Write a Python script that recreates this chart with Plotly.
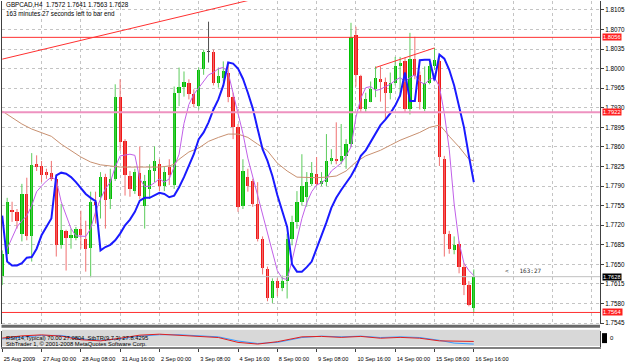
import plotly.graph_objects as go

# ---------------- data ----------------
bar_idx = list(range(97))
opens = [1.7629,1.7669,1.7747,1.7744,1.7705,1.7776,1.7701,1.7829,1.7826,1.7815,
         1.7813,1.7803,1.7684,1.7710,1.7698,1.7698,1.7714,1.7696,1.7680,1.7762,
         1.7771,1.7806,1.7767,1.7803,1.7949,1.7870,1.7808,1.7781,1.7813,1.7755,
         1.7785,1.7817,1.7829,1.7790,1.7824,1.7792,1.7957,1.7968,1.7975,1.7954,
         1.7934,1.8000,1.8030,1.8030,1.7975,1.7984,1.7993,1.7950,1.7895,1.7755,
         1.7806,1.7799,1.7758,1.7696,1.7641,1.7589,1.7620,1.7607,1.7620,1.7696,
         1.7726,1.7762,1.7771,1.7794,1.7812,1.7794,1.7797,1.7835,1.7838,1.7835,
         1.7844,1.7865,1.8061,1.7986,1.7927,1.7941,1.7963,1.7981,1.7977,1.7957,
         1.7975,1.8004,1.8013,1.7927,1.8018,1.7989,1.7927,1.7975,1.8004,1.8013,
         1.7838,1.7705,1.7675,1.7687,1.7646,1.7613,1.7572]
highs = [1.7675,1.7769,1.7762,1.7749,1.7794,1.7805,1.7849,1.7845,1.7835,1.7821,
         1.7835,1.7806,1.7758,1.7712,1.7714,1.7717,1.7746,1.7728,1.7780,1.7780,
         1.7815,1.7812,1.7821,1.7972,1.7981,1.7874,1.7817,1.7821,1.7861,1.7810,
         1.7829,1.7861,1.7838,1.7824,1.7838,1.7968,1.8002,1.7995,1.7981,1.7963,
         1.8002,1.8034,1.8084,1.8034,1.8002,1.8013,1.8011,1.7957,1.7901,1.7838,
         1.7821,1.7803,1.7797,1.7700,1.7646,1.7625,1.7625,1.7630,1.7705,1.7737,
         1.7781,1.7847,1.7815,1.7833,1.7842,1.7815,1.7883,1.7856,1.7904,1.7901,
         1.7874,1.8082,1.8075,1.7989,1.7957,1.7977,1.8004,1.8004,1.7984,1.7993,
         1.8021,1.8021,1.8020,1.8064,1.8057,1.7995,1.8004,1.8011,1.8037,1.8021,
         1.7844,1.7710,1.7700,1.7691,1.7652,1.7620,1.7641]
lows = [1.7613,1.7666,1.7726,1.7714,1.7691,1.7693,1.7655,1.7817,1.7797,1.7803,
        1.7799,1.7664,1.7678,1.7639,1.7678,1.7693,1.7678,1.7637,1.7627,1.7723,
        1.7732,1.7714,1.7749,1.7799,1.7853,1.7773,1.7771,1.7776,1.7767,1.7714,
        1.7767,1.7797,1.7781,1.7781,1.7792,1.7785,1.7933,1.7950,1.7945,1.7931,
        1.7927,1.7989,1.8011,1.7970,1.7966,1.7977,1.7940,1.7874,1.7744,1.7749,
        1.7780,1.7753,1.7691,1.7632,1.7584,1.7581,1.7593,1.7602,1.7589,1.7684,
        1.7714,1.7755,1.7753,1.7790,1.7790,1.7790,1.7790,1.7829,1.7829,1.7829,
        1.7821,1.7860,1.7968,1.7922,1.7922,1.7940,1.7949,1.7941,1.7909,1.7945,
        1.7970,1.7949,1.7922,1.7918,1.7981,1.7927,1.7924,1.7972,1.7998,1.7826,
        1.7664,1.7669,1.7668,1.7634,1.7595,1.7575,1.7563]
closes = [1.7668,1.7762,1.7744,1.7728,1.7776,1.7701,1.7828,1.7824,1.7810,1.7810,
          1.7803,1.7684,1.7712,1.7698,1.7703,1.7714,1.7703,1.7678,1.7762,1.7757,
          1.7806,1.7765,1.7803,1.7950,1.7869,1.7810,1.7785,1.7815,1.7773,1.7799,
          1.7819,1.7835,1.7790,1.7815,1.7810,1.7957,1.7968,1.7977,1.7954,1.7936,
          1.7998,1.8029,1.8030,1.7975,1.7986,1.7995,1.7950,1.7895,1.7753,1.7817,
          1.7790,1.7758,1.7696,1.7643,1.7589,1.7620,1.7607,1.7620,1.7696,1.7726,
          1.7762,1.7790,1.7797,1.7813,1.7794,1.7799,1.7835,1.7840,1.7835,1.7844,
          1.7865,1.8057,1.7989,1.7927,1.7945,1.7963,1.7984,1.7977,1.7957,1.7975,
          1.8004,1.8011,1.7927,1.8018,1.7986,1.7941,1.7975,1.8004,1.8016,1.7842,
          1.7705,1.7678,1.7685,1.7646,1.7613,1.7577,1.7628]

blue_ma = [1.7737,1.7655,1.7648,1.7648,1.7652,1.7662,1.7663,1.7678,1.7702,1.7717,
           1.7732,1.7809,1.7814,1.7812,1.7806,1.7797,1.7786,1.7776,1.7769,1.7763,
           1.7675,1.7681,1.7685,1.7693,1.7705,1.7720,1.7730,1.7744,1.7764,1.7769,
           1.7769,1.7773,1.7778,1.7776,1.7770,1.7773,1.7788,1.7806,1.7826,1.7847,
           1.7874,1.7886,1.7904,1.7927,1.7945,1.7970,1.8011,1.8009,1.8000,1.7982,
           1.7957,1.7929,1.7892,1.7856,1.7835,1.7808,1.7774,1.7744,1.7717,1.7650,
           1.7637,1.7637,1.7645,1.7655,1.7678,1.7703,1.7725,1.7751,1.7769,1.7783,
           1.7796,1.7808,1.7824,1.7844,1.7854,1.7869,1.7883,1.7899,1.7909,1.7920,
           1.7934,1.7952,1.7993,1.7942,1.7942,1.8015,1.8016,1.8016,1.7979,1.8025,
           1.8018,1.7998,1.7970,1.7934,1.7895,1.7844,1.7797]

violet_idx = list(range(1, 97))
violet_ma = [1.7678,1.7696,1.7717,1.7728,1.7737,1.7755,1.7780,1.7790,1.7799,1.7806,
             1.7801,1.7762,1.7737,1.7714,1.7701,1.7701,1.7700,1.7714,1.7744,1.7767,
             1.7785,1.7797,1.7824,1.7844,1.7845,1.7847,1.7845,1.7803,1.7789,1.7790,
             1.7796,1.7803,1.7797,1.7803,1.7824,1.7847,1.7902,1.7936,1.7954,1.7966,
             1.7979,1.7989,1.7993,1.8000,1.8002,1.7993,1.7956,1.7918,1.7884,1.7840,
             1.7806,1.7774,1.7737,1.7703,1.7668,1.7639,1.7625,1.7623,1.7657,1.7696,
             1.7732,1.7760,1.7780,1.7792,1.7796,1.7803,1.7817,1.7824,1.7831,1.7844,
             1.7860,1.7913,1.7947,1.7966,1.7968,1.7961,1.7963,1.7968,1.7972,1.7979,
             1.7984,1.7977,1.7984,1.7989,1.7977,1.7972,1.7981,1.7984,1.7968,1.7920,
             1.7856,1.7758,1.7689,1.7652,1.7639,1.7630]

brown_idx = [0,2,4,6,8,10,12,14,16,18,20,22,24,26,28,30,32,34,35,36,38,40,42,44,46,
             48,50,52,54,56,58,60,62,64,66,68,70,72,74,77,79,81,83,85,87,89,90,91,93,95,96]
brown_ma = [1.7924,1.7913,1.7901,1.7892,1.7886,1.7879,1.7865,1.7853,1.7842,1.7833,
            1.7828,1.7826,1.7824,1.7824,1.7824,1.7824,1.7824,1.7826,1.7829,1.7838,
            1.7851,1.7858,1.7870,1.7877,1.7883,1.7883,1.7877,1.7865,1.7853,1.7831,
            1.7817,1.7806,1.7805,1.7805,1.7806,1.7808,1.7817,1.7833,1.7844,1.7854,
            1.7863,1.7872,1.7879,1.7886,1.7895,1.7899,1.7890,1.7879,1.7860,1.7838,1.7835]

rsi_idx = [0,4,8,12,16,20,24,28,32,36,40,44,48,52,56,61,65,69,73,77,81,85,89,92,96]
rsi_red = [51,67,74,65,39,31,50,72,79,72,65,55,20,8,25,60,63,56,63,50,56,50,31,27,27]
rsi_blue = [45,60,70,70,45,35,45,65,75,75,70,60,30,12,20,55,65,60,65,55,60,55,35,15,8]

label_idx = [0, 8, 16, 24, 32, 40, 48, 56, 64, 72, 80, 88, 96]
label_text = ["25 Aug 2009", "27 Aug 00:00", "28 Aug 08:00", "31 Aug 16:00", "2 Sep 00:00",
              "3 Sep 08:00", "4 Sep 16:00", "8 Sep 00:00", "9 Sep 08:00", "10 Sep 16:00",
              "14 Sep 00:00", "15 Sep 08:00", "16 Sep 16:00"]
grid_idx = list(range(0, 121, 8))
price_ticks = [1.7545, 1.7580, 1.7615, 1.7650, 1.7685, 1.7720, 1.7755, 1.7790, 1.7825,
               1.7860, 1.7895, 1.7930, 1.7965, 1.8000, 1.8035, 1.8070, 1.8105]

red_levels = [1.8056, 1.7564]
pink_levels = [1.7922]
bid_price = 1.7628
trend1_x = [0, 52]
trend1_y = [1.8017, 1.8126]
trend2_x = [76, 88]
trend2_y = [1.8002, 1.8037]
timer_pos = (102, 1.7639)

# ---------------- figure ----------------
W, H = 625, 363
def fx(p): return p / W
def fy(p): return 1 - p / H

FONT = "Liberation Sans, Arial, sans-serif"
GREEN, RED = "#00c000", "#f01818"
GREEN_W, RED_W = "#5ccc5c", "#f07070"
XRANGE = [-0.05, 121.7]

fig = go.Figure()

# wicks
for up, col in ((True, GREEN_W), (False, RED_W)):
    wx, wy = [], []
    for i, o, h, l, c in zip(bar_idx, opens, highs, lows, closes):
        if o == c or (c > o) != up:
            continue
        wx += [i, i, None]; wy += [l, h, None]
    fig.add_trace(go.Scatter(x=wx, y=wy, mode="lines", line=dict(color=col, width=1),
                             hoverinfo="skip", showlegend=False))
# doji wick
dx, dy = [], []
for i, o, h, l, c in zip(bar_idx, opens, highs, lows, closes):
    if o == c:
        dx += [i, i, None]; dy += [l, h, None]
fig.add_trace(go.Scatter(x=dx, y=dy, mode="lines", line=dict(color="#505050", width=1),
                         hoverinfo="skip", showlegend=False))

# bodies
bx, bb, bh, bc = [], [], [], []
for i, o, c in zip(bar_idx, opens, closes):
    bx.append(i)
    bb.append(min(o, c))
    bh.append(max(abs(c - o), 0.00012))
    bc.append(GREEN if c > o else (RED if c < o else "#404040"))
fig.add_trace(go.Bar(x=bx, y=bh, base=bb, width=0.66, marker=dict(color=bc, line_width=0),
                     hoverinfo="skip", showlegend=False))

# moving averages
fig.add_trace(go.Scatter(x=brown_idx, y=brown_ma, mode="lines",
                         line=dict(color="#c89070", width=1), showlegend=False))
fig.add_trace(go.Scatter(x=violet_idx, y=violet_ma, mode="lines",
                         line=dict(color="#c060e8", width=1), showlegend=False))
fig.add_trace(go.Scatter(x=bar_idx, y=blue_ma, mode="lines",
                         line=dict(color="#1a1aff", width=2), showlegend=False))

# trend lines
fig.add_trace(go.Scatter(x=trend1_x, y=trend1_y, mode="lines",
                         line=dict(color="#ff3030", width=1), showlegend=False))
fig.add_trace(go.Scatter(x=trend2_x, y=trend2_y, mode="lines",
                         line=dict(color="#ff3030", width=1), showlegend=False))

# RSI panel
fig.add_trace(go.Scatter(x=rsi_idx, y=rsi_blue, mode="lines", xaxis="x2", yaxis="y2",
                         line=dict(color="#3a9cff", width=1), showlegend=False))
fig.add_trace(go.Scatter(x=rsi_idx, y=rsi_red, mode="lines", xaxis="x2", yaxis="y2",
                         line=dict(color="#e02020", width=1), showlegend=False))

shapes = []
for lv in red_levels:
    shapes.append(dict(type="line", xref="x domain", yref="y", x0=0, x1=1, y0=lv, y1=lv,
                       line=dict(color="#ff3030", width=1)))
for lv in pink_levels:
    shapes.append(dict(type="line", xref="x domain", yref="y", x0=0, x1=1, y0=lv, y1=lv,
                       line=dict(color="#ee92c0", width=2)))
shapes.append(dict(type="line", xref="x domain", yref="y", x0=0, x1=1, y0=bid_price, y1=bid_price,
                   line=dict(color="#c0c0c0", width=1)))
# RSI background and separators
shapes.append(dict(type="rect", xref="paper", yref="paper", x0=fx(2), x1=fx(601),
                   y0=fy(348), y1=fy(331.5), fillcolor="#d8d8d8", line_width=0, layer="below"))
shapes.append(dict(type="rect", xref="paper", yref="paper", x0=fx(1.5), x1=fx(601),
                   y0=fy(329.5), y1=fy(326.5), fillcolor="#6a6a6a", line_width=0))
shapes.append(dict(type="rect", xref="paper", yref="paper", x0=fx(603), x1=fx(608),
                   y0=fy(345), y1=fy(335), fillcolor="#000000", line_width=0))

annotations = []
def ann(text, x, y, size=6.3, color="#000000", xref="paper", yref="paper", **kw):
    annotations.append(dict(text=text, x=x, y=y, xref=xref, yref=yref, xanchor="left",
                            yanchor="middle", showarrow=False,
                            font=dict(family=FONT, size=size, color=color), **kw))

ann("GBPCAD,H4  1.7572 1.7641 1.7563 1.7628", fx(4), fy(5))
ann("163 minutes 27 seconds left to bar end", fx(4), fy(14))
ann("RSI(14,Typical) 70.00 27.0804  StbTR(9,7,3) 27.8.4295", fx(4), fy(340), size=5.8)
ann("StbTrader 1, © 2001-2008 MetaQuotes Software Corp.", fx(4), fy(346), size=5.8)
ann("0", fx(609), fy(340), size=6)
annotations.append(dict(text="<   163:27", x=timer_pos[0], y=timer_pos[1], xref="x", yref="y",
                        xanchor="left", yanchor="middle", showarrow=False,
                        font=dict(family="DejaVu Sans Mono, monospace", size=6, color="#303030")))
for lv in red_levels + pink_levels:
    ann(f"{lv:.4f}", fx(602.5), lv, yref="y", size=5.8, color="#ffffff", bgcolor="#ff2020",
        borderpad=0, height=6)
ann(f"{bid_price:.4f}", fx(602.5), bid_price, yref="y", size=5.8, color="#ffffff",
    bgcolor="#000000", borderpad=0, height=6)

fig.update_layout(
    width=W, height=H, margin=dict(l=0, r=0, t=0, b=0),
    paper_bgcolor="#ffffff", plot_bgcolor="#ffffff",
    barmode="overlay", showlegend=False, bargap=0,
    font=dict(family=FONT, size=6.3, color="#000000"),
    shapes=shapes, annotations=annotations,
    xaxis=dict(domain=[fx(2), fx(601)], range=XRANGE, tickvals=grid_idx,
               showticklabels=False, showgrid=True, gridcolor="#c4c4c4", griddash="dot",
               gridwidth=1, zeroline=False, showline=False, ticks=""),
    yaxis=dict(domain=[fy(326), fy(1)], range=[1.7543, 1.8121], side="right",
               tickvals=price_ticks, ticktext=[f"{p:.4f}" for p in price_ticks],
               ticks="outside", ticklen=3, tickcolor="#404040", tickfont=dict(size=6.3),
               showgrid=True, gridcolor="#c4c4c4", griddash="dot", zeroline=False,
               showline=True, linecolor="#404040", linewidth=1, mirror=True),
    xaxis2=dict(domain=[fx(2), fx(601)], anchor="y2", matches="x", range=XRANGE,
                tickvals=label_idx, ticktext=label_text, ticks="outside", ticklen=3,
                tickcolor="#404040", ticklabelposition="outside right", tickangle=0,
                ticklabelstandoff=5,
                tickfont=dict(size=5.6), showgrid=False, zeroline=False,
                showline=True, linecolor="#808080", linewidth=2),
    yaxis2=dict(domain=[fy(349), fy(333)], range=[-13.6, 100.7], showticklabels=False,
                showgrid=False, zeroline=False, showline=True, linecolor="#404040",
                mirror=True, ticks=""),
)

fig.write_html("out.html")
